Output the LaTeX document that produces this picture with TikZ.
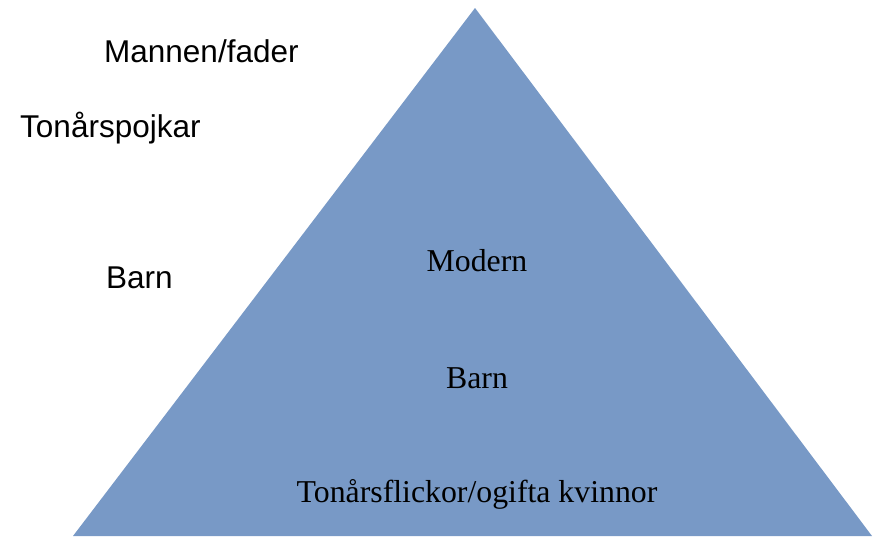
\documentclass[tikz,border=0pt]{standalone}
\usepackage{fontspec}
\setmainfont{Liberation Serif}
\setsansfont{Liberation Sans}
\definecolor{pyr}{RGB}{120,153,198}
\begin{document}
\begin{tikzpicture}[x=1pt,y=-1pt,
  sanslbl/.style={anchor=base west,inner sep=0pt,font=\sffamily\fontsize{31.5}{38}\selectfont},
  seriflbl/.style={anchor=base,inner sep=0pt,font=\rmfamily\fontsize{31.8}{38}\selectfont}]
\useasboundingbox (0,0) rectangle (881,536);
\fill[pyr] (475,8) coordinate (apex) -- (73,536) coordinate (bl) -- (872,536) coordinate (br) -- cycle;
\node[sanslbl] (mann) at (104,62) {Mannen/fader};
\node[sanslbl] (tonp) at (20,137) {Tonårspojkar};
\node[sanslbl] (barnl) at (106,288) {Barn};
\node[seriflbl] (mod) at (477,271) {Modern};
\node[seriflbl] (barn) at (477,388) {Barn};
\node[seriflbl] (tonf) at (477,502) {Tonårsflickor/ogifta kvinnor};
\end{tikzpicture}
\end{document}
